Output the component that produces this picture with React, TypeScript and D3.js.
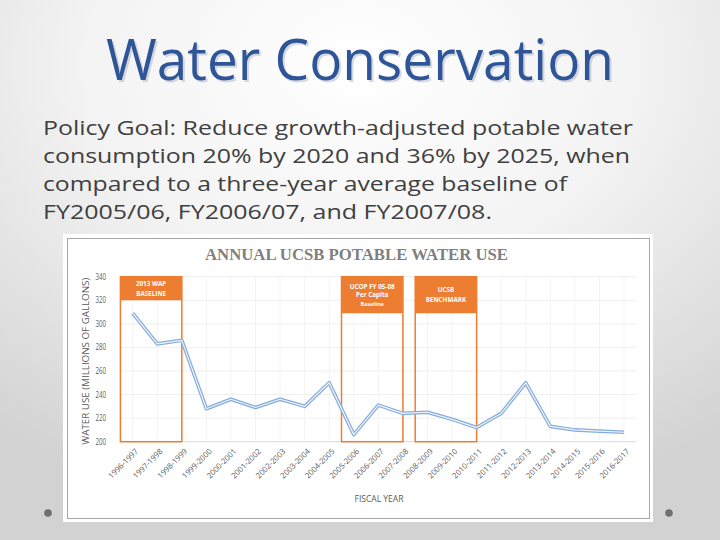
import React from "react";
import * as d3 from "d3";

const years = [
  "1996-1997","1997-1998","1998-1999","1999-2000","2000-2001","2001-2002","2002-2003",
  "2003-2004","2004-2005","2005-2006","2006-2007","2007-2008","2008-2009","2009-2010",
  "2010-2011","2011-2012","2012-2013","2013-2014","2014-2015","2015-2016","2016-2017",
];
const waterUse = [309, 283, 286, 228, 236, 229, 236, 230, 250, 206, 231, 224, 225, 219, 212, 224, 250, 213, 210, 209, 208];
const yTicks = [200, 220, 240, 260, 280, 300, 320, 340];
const bodyLines = [
  "Policy Goal: Reduce growth-adjusted potable water",
  "consumption 20% by 2020 and 36% by 2025, when",
  "compared to a three-year average baseline of",
  "FY2005/06, FY2006/07, and FY2007/08.",
];
const bodyWidths = [590, 587, 524, 449];
const boxStart = [0, 9, 12];
const boxEnd = [2, 11, 14];
const boxHeaderTop = [340, 340, 340];
const boxHeaderBottom = [320, 309, 309];
const boxLabels = [["2013 WAP", "BASELINE"], ["UCOP FY 05-08", "Per Capita", "Baseline"], ["UCSB", "BENCHMARK"]];

export default function App() {
  const W = 720, H = 540;
  const x = d3.scaleBand<string>().domain(years).range([120.4, 636.3]).padding(0);
  const cx = (i: number) => (x(years[i]) as number) + x.bandwidth() / 2;
  const y = d3.scaleLinear().domain([200, 340]).range([441.7, 276.7]);
  const line = d3.line<number>().x((_, i) => cx(i)).y((d) => y(d));
  const path = line(waterUse) as string;
  const orange = "#ed7d31";
  const grayText = "#595959";
  const font = "'Open Sans', Lato, sans-serif";
  const noLig = { fontVariantLigatures: "none" as const };

  return (
    <svg width={W} height={H} style={{ position: "absolute", left: 0, top: 0 }}>
      <defs>
        <radialGradient id="bg" cx="0.5" cy="0.12" r="0.85">
          <stop offset="0" stopColor="#ffffff" />
          <stop offset="0.45" stopColor="#f3f3f3" />
          <stop offset="1" stopColor="#d2d2d2" />
        </radialGradient>
        <filter id="sh" x="-5%" y="-5%" width="110%" height="120%">
          <feDropShadow dx="2" dy="2" stdDeviation="0.6" floodColor="#9aa6b5" floodOpacity="0.4" />
        </filter>
      </defs>
      <rect x={0} y={0} width={W} height={H} fill="url(#bg)" />

      <text x={106} y={80} fontFamily={font} fontWeight={400} fontSize={56} fill="#2f5597" textLength={508}
        lengthAdjust="spacingAndGlyphs" filter="url(#sh)" style={noLig}>Water Conservation</text>

      {bodyLines.map((t, i) => (
        <text key={i} x={43} y={135 + i * 28} fontFamily={font} fontWeight={400} fontSize={20} fill="#404040"
          textLength={bodyWidths[i]} lengthAdjust="spacingAndGlyphs" style={noLig}>{t}</text>
      ))}

      {/* chart panel */}
      <rect x={63} y={234} width={590} height={288} fill="#ffffff" />
      <rect x={67.5} y={238.5} width={582} height={280} fill="#ffffff" stroke="#a6a6a6" strokeWidth={1} />

      <text x={356.5} y={260} textAnchor="middle" fontFamily="'Liberation Serif', 'DejaVu Serif', serif"
        fontWeight="bold" fontSize={17} fill="#7f7f7f" textLength={303} lengthAdjust="spacingAndGlyphs">
        ANNUAL UCSB POTABLE WATER USE
      </text>

      {/* gridlines */}
      {yTicks.map((t) => (
        <line key={t} x1={120.4} x2={636.3} y1={y(t)} y2={y(t)} stroke={t === 200 ? "#d9d9d9" : "#efefef"} strokeWidth={1} />
      ))}
      {years.map((yr, i) => (
        <line key={yr} x1={cx(i)} x2={cx(i)} y1={y(340)} y2={y(200)} stroke="#f3f3f3" strokeWidth={1} />
      ))}

      {/* y axis */}
      {yTicks.map((t) => (
        <text key={t} x={106} y={y(t) + 3} textAnchor="end" fontFamily={font} fontSize={8.5} fill={grayText}
          textLength={10.5} lengthAdjust="spacingAndGlyphs">{t}</text>
      ))}
      <text transform={`translate(89,${(y(200) + y(340)) / 2 + 2}) rotate(-90)`} textAnchor="middle"
        fontFamily={font} fontSize={9} fill={grayText} textLength={167} lengthAdjust="spacingAndGlyphs">
        WATER USE (MILLIONS OF GALLONS)
      </text>

      {/* boxes */}
      {boxStart.map((s, k) => {
        const x0 = x(years[s]) as number;
        const x1 = cx(boxEnd[k]);
        const yt = y(boxHeaderTop[k]);
        const yb = y(boxHeaderBottom[k]);
        const labels = boxLabels[k];
        const lh = labels.length === 3 ? 8.5 : 10;
        const startY = (yt + yb) / 2 - ((labels.length - 1) * lh) / 2 + 2.2;
        return (
          <g key={k}>
            <rect x={x0} y={yt} width={x1 - x0} height={y(200) - yt} fill="none" stroke={orange} strokeWidth={1.5} />
            <rect x={x0} y={yt} width={x1 - x0} height={yb - yt} fill={orange} />
            {labels.map((l, j) => (
              <text key={j} x={(x0 + x1) / 2} y={startY + j * lh} textAnchor="middle" fontFamily={font}
                fontWeight="bold" fontSize={j === 2 ? 5.5 : 6.3} fill="#ffffff">{l}</text>
            ))}
          </g>
        );
      })}

      {/* data line */}
      <path d={path} fill="none" stroke="#86acdb" strokeWidth={3.6} strokeLinejoin="round" />
      <path d={path} fill="none" stroke="#eef4fb" strokeWidth={1.2} strokeLinejoin="round" />

      {/* x labels */}
      {years.map((yr, i) => (
        <text key={yr} transform={`translate(${cx(i) + 4},${450}) rotate(-45)`} textAnchor="end"
          dy="0.35em" fontFamily={font} fontSize={7.8} fill={grayText}>{yr}</text>
      ))}
      <text x={379} y={502} textAnchor="middle" fontFamily={font} fontSize={8.5} fill={grayText}>FISCAL YEAR</text>

      {/* bullets */}
      <circle cx={48} cy={513} r={3.8} fill="#6f6f6f" />
      <circle cx={669} cy={513} r={3.8} fill="#6f6f6f" />
    </svg>
  );
}
